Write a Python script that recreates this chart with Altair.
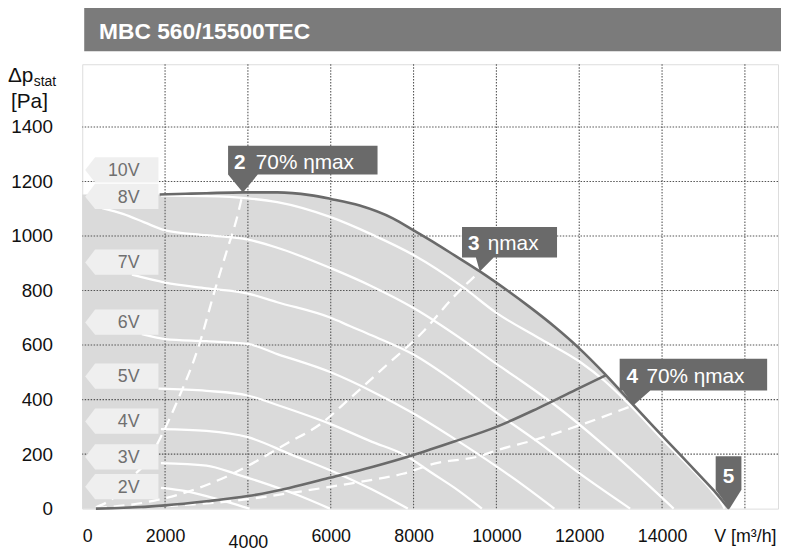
import altair as alt
import pandas as pd

# ---------------- data ----------------
x_ticks = [0, 2000, 4000, 6000, 8000, 10000, 12000, 14000, 16000]
y_ticks = [0, 200, 400, 600, 800, 1000, 1200, 1400]
grid_x = [2000, 4000, 6000, 8000, 10000, 12000, 14000, 16000]
grid_y = [200, 400, 600, 800, 1000, 1200, 1400]

# envelope (max) curve
max_x = [1870, 2500, 3000, 3880, 4710, 5500, 6000, 6700, 7500, 8000, 8500, 9000, 9600,
         10283, 10800, 11400, 12000, 12600, 13190, 13800, 14426, 15000, 15300, 15560, 15620]
max_y = [1152, 1155, 1157, 1160, 1160, 1150, 1136, 1112, 1065, 1021, 976, 928, 870,
         798, 740, 668, 588, 497, 400, 300, 200, 107, 58, 10, 0]
fill_left_x = [0]
fill_left_y = [1152]

# system curve
sys_x = [330, 1000, 2000, 3000, 4000, 5000, 6000, 7000, 8000, 9000, 10000, 11000, 12000, 12650]
sys_y = [0, 3, 12, 27, 46, 76, 114, 153, 197, 247, 300, 368, 442, 490]

# speed curves (control voltage)
v10_x = [1900, 3000, 4000, 4710, 6000, 7000, 8000, 9170, 10000, 11000, 12030, 12600, 13150, 14070, 14700, 15220, 15460, 15510]
v10_y = [1148, 1146, 1138, 1124, 1069, 1005, 930, 815, 718, 628, 537, 470, 391, 245, 148, 62, 15, 0]
v8_x = [480, 1000, 1500, 2000, 3000, 4000, 4710, 6000, 7000, 8000, 9170, 10000, 10530, 11500, 12500, 13500, 14280]
v8_y = [1102, 1080, 1050, 1021, 1003, 987, 957, 882, 815, 736, 621, 531, 476, 370, 245, 110, 0]
v7_x = [1200, 2000, 3000, 4000, 4710, 6000, 6460, 7000, 8000, 9000, 10000, 11000, 12000, 13230]
v7_y = [858, 829, 808, 789, 757, 700, 670, 635, 565, 465, 352, 245, 130, 0]
v6_x = [1440, 2000, 3000, 4000, 4710, 6000, 7000, 8000, 9000, 10000, 10700, 11400]
v6_y = [640, 622, 614, 604, 567, 500, 430, 349, 255, 155, 80, 0]
v5_x = [1840, 3000, 4000, 4710, 6000, 7000, 7740, 8500, 9000, 9650]
v5_y = [440, 432, 415, 380, 310, 245, 200, 125, 75, 0]
v4_x = [1900, 3000, 4000, 5020, 6000, 7000, 7860]
v4_y = [292, 285, 262, 200, 140, 70, 0]
v3_x = [1900, 3000, 3750, 4500, 5200, 5980]
v3_y = [167, 158, 125, 88, 50, 0]
v2_x = [1900, 2500, 3000, 3500, 4040]
v2_y = [76, 64, 46, 25, 0]

# efficiency (dashed) curves
d1_x = [330, 800, 1200, 1600, 1920, 2320, 2800, 3200, 3500, 3750, 3880]
d1_y = [5, 45, 115, 180, 270, 403, 590, 800, 950, 1075, 1160]
d2_x = [330, 1600, 2400, 3590, 4950, 5750, 6460, 7340, 8210, 9020, 9600]
d2_y = [2, 25, 55, 125, 240, 310, 404, 525, 646, 785, 870]
d3_x = [330, 1600, 2700, 3750, 4000, 5980, 6780, 7740, 8500, 9650, 9970, 10930, 12050, 13310]
d3_y = [1, 6, 16, 30, 35, 80, 100, 128, 165, 195, 212, 252, 308, 379]

# voltage labels on the left
volt_labels = ["10V", "8V", "7V", "6V", "5V", "4V", "3V", "2V"]
volt_label_y = [1242, 1144, 903, 683, 485, 320, 189, 80]

# callouts
call_num = ["2", "3", "4", "5"]
call_text = ["70% ηmax", "ηmax", "70% ηmax", ""]
call_x = [3880, 9600, 13311, 15629]
call_y = [1160, 870, 379, 0]

title_text = "MBC 560/15500TEC"

# ---------------- styles ----------------
DARK = "#6a6a6a"
FILL = "#dadada"
SANS = "Liberation Sans, Arial, sans-serif"
call_paths = {
    "2": "M -0.15 -0.47 L 1.36 -0.47 L 1.36 -0.18 L 0.15 -0.18 L 0 0 L -0.15 -0.18 Z",
    "3": "M -0.18 -0.45 L 0.78 -0.45 L 0.78 -0.14 L 0.14 -0.14 L 0 0 L -0.04 -0.14 L -0.18 -0.14 Z",
    "4": "M -0.14 -0.47 L 1.35 -0.47 L 1.35 -0.15 L 0.17 -0.15 L 0 0 L -0.11 -0.15 L -0.14 -0.15 Z",
    "5": "M -0.14 -0.53 L 0.12 -0.53 L 0.12 -0.19 L 0 0 L -0.14 -0.19 Z",
}
call_dx = {"2": (-9, 13), "3": (-12, 8), "4": (-7, 13), "5": (-1, 0)}
call_dy = {"2": -24, "3": -22, "4": -23, "5": -26}
label_box_path = "M 0.03 0 L 0.13 -0.13 L 0.77 -0.13 L 0.77 0.125 L 0.13 0.125 Z"

# ---------------- encodings ----------------
xs = alt.Scale(domain=[0, 16800], nice=False, zero=False)
ys = alt.Scale(domain=[0, 1630], nice=False, zero=False)
xaxis = alt.Axis(values=x_ticks, grid=False, ticks=False, domain=False, title=None,
                 labelExpr="datum.value == 16000 ? 'V [m³/h]' : format(datum.value, 'd')",
                 labelFont=SANS, labelFontSize=18, labelColor="#111111", labelFlush=True,
                 labelPadding={"condition": {"test": "datum.value == 4000", "value": 25}, "value": 19})
yaxis = alt.Axis(values=y_ticks, grid=False, ticks=False, domain=False, title=None,
                 labelFont=SANS, labelFontSize=19, labelColor="#111111", labelPadding=30,
                 format="d")


def X(f="x"):
    return alt.X(f"{f}:Q", scale=xs, axis=xaxis)


def Y(f="y"):
    return alt.Y(f"{f}:Q", scale=ys, axis=yaxis)


def long_df(pairs):
    rows = []
    for name, xv, yv in pairs:
        for i, (a, b) in enumerate(zip(xv, yv)):
            rows.append({"series": name, "i": i, "x": a, "y": b})
    return pd.DataFrame(rows)


area_df = pd.DataFrame({"x": fill_left_x + max_x, "y": fill_left_y + max_y})
white_df = long_df([("10V", v10_x, v10_y), ("8V", v8_x, v8_y), ("7V", v7_x, v7_y),
                    ("6V", v6_x, v6_y), ("5V", v5_x, v5_y), ("4V", v4_x, v4_y),
                    ("3V", v3_x, v3_y), ("2V", v2_x, v2_y)])
dash_df = long_df([("d1", d1_x, d1_y), ("d2", d2_x, d2_y), ("d3", d3_x, d3_y)])
dark_df = long_df([("max", max_x, max_y), ("sys", sys_x, sys_y)])
vlab_df = pd.DataFrame({"x": [0] * len(volt_labels), "y": volt_label_y, "label": volt_labels})
call_df = pd.DataFrame({"x": call_x, "y": call_y, "num": call_num, "text": call_text,
                        "shape": [call_paths[n] for n in call_num]})
one = pd.DataFrame({"a": [0]})

area = alt.Chart(area_df).mark_area(color=FILL, interpolate="monotone").encode(x=X(), y=Y())
gx = alt.Chart(pd.DataFrame({"x": grid_x})).mark_rule(
    color="#555555", strokeDash=[1.5, 1.5], strokeWidth=1.1).encode(x=X())
gy = alt.Chart(pd.DataFrame({"y": grid_y})).mark_rule(
    color="#555555", strokeDash=[1.5, 1.5], strokeWidth=1.1).encode(y=Y())
white = alt.Chart(white_df).mark_line(color="white", strokeWidth=2.3, interpolate="monotone").encode(
    x=X(), y=Y(), detail="series:N", order="i:Q")
dashed = alt.Chart(dash_df).mark_line(color="white", strokeWidth=2.3, strokeDash=[11, 7],
                                      interpolate="monotone").encode(
    x=X(), y=Y(), detail="series:N", order="i:Q")
dark = alt.Chart(dark_df).mark_line(color=DARK, strokeWidth=2.6, interpolate="monotone").encode(
    x=X(), y=Y(), detail="series:N", order="i:Q")

vbox = alt.Chart(vlab_df).mark_point(shape=label_box_path, size=40000, filled=True, opacity=1,
                                     color="#efefef", strokeWidth=0).encode(x=X(), y=Y())
vtext = alt.Chart(vlab_df).mark_text(font=SANS, fontSize=18, color="#707070", align="right",
                                     baseline="middle", dx=58, dy=1).encode(x=X(), y=Y(), text="label:N")

cbox = alt.Chart(call_df).mark_point(filled=True, opacity=1, size=40000, color=DARK,
                                     strokeWidth=0).encode(
    x=X(), y=Y(), shape=alt.Shape("shape:N", scale=None))

layers = [area, gx, gy, white, dashed, dark, vbox, vtext, cbox]

for n in call_num:
    sub = call_df[call_df["num"] == n]
    dxn, dxt = call_dx[n]
    layers.append(alt.Chart(sub).mark_text(
        font=SANS, fontSize=21, fontWeight="bold", color="white",
        align="center" if n == "5" else "left", baseline="alphabetic",
        dx=dxn, dy=call_dy[n]).encode(x=X(), y=Y(), text="num:N"))
    if sub["text"].iloc[0]:
        layers.append(alt.Chart(sub).mark_text(
            font=SANS, fontSize=21, color="white", align="left", baseline="alphabetic",
            dx=dxt, dy=call_dy[n]).encode(x=X(), y=Y(), text="text:N"))

title_bar = alt.Chart(one).mark_rect(color="#7b7b7b").encode(
    x=alt.value(2), x2=alt.value(706), y=alt.value(-58), y2=alt.value(-13))
title = alt.Chart(one).mark_text(font=SANS, fontSize=23, fontWeight="bold", color="white",
                                 align="left", baseline="alphabetic").encode(
    x=alt.value(17), y=alt.value(-25), text=alt.value(title_text))
dp = alt.Chart(one).mark_text(font=SANS, fontSize=21, color="#111111", align="left",
                              baseline="alphabetic").encode(
    x=alt.value(-75), y=alt.value(18), text=alt.value("Δp"))
stat = alt.Chart(one).mark_text(font=SANS, fontSize=14, color="#111111", align="left",
                                baseline="alphabetic").encode(
    x=alt.value(-49), y=alt.value(22), text=alt.value("stat"))
pa = alt.Chart(one).mark_text(font=SANS, fontSize=21, color="#111111", align="left",
                              baseline="alphabetic").encode(
    x=alt.value(-72), y=alt.value(44), text=alt.value("[Pa]"))

layers += [title_bar, title, dp, stat, pa]

chart = alt.layer(*layers).properties(
    width=703, height=449,
    padding={"left": 75, "top": 54, "right": 3, "bottom": 42},
    autosize=alt.AutoSizeParams(type="none"),
).configure_view(stroke="#8a8a8a", strokeWidth=2).configure(background="white")

chart.save("out.html", embed_options={"renderer": "svg", "actions": False})
